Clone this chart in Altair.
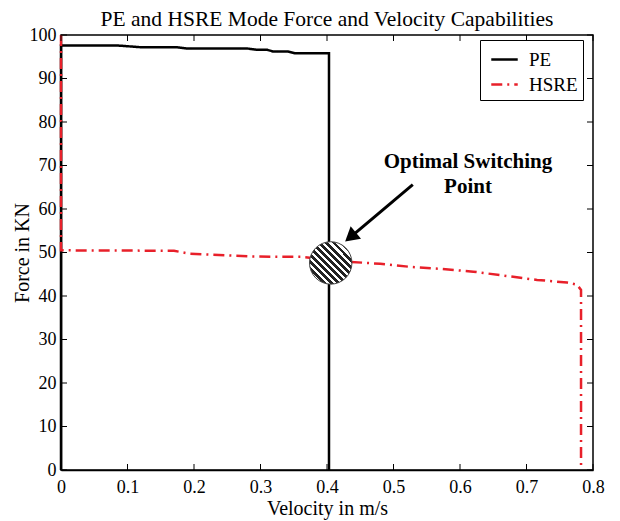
import altair as alt
import pandas as pd

# ---- data ----
pe_x = [0, 0, 0.084, 0.119, 0.174, 0.189, 0.28, 0.295, 0.31, 0.319, 0.341, 0.352, 0.403, 0.403]
pe_y = [0, 97.6, 97.6, 97.2, 97.2, 96.9, 96.9, 96.6, 96.6, 96.2, 96.2, 95.8, 95.8, 0]

hsre_x = [0, 0, 0.17, 0.194, 0.284, 0.33, 0.36, 0.43, 0.48, 0.525, 0.574, 0.62, 0.675, 0.716, 0.761, 0.776, 0.782, 0.782]
hsre_y = [100, 50.5, 50.4, 49.7, 49.1, 49.0, 49.0, 47.9, 47.4, 46.7, 46.2, 45.6, 44.5, 43.7, 43.1, 42.6, 41.4, 0]

x_ticks = [0, 0.1, 0.2, 0.3, 0.4, 0.5, 0.6, 0.7, 0.8]
y_ticks = [0, 10, 20, 30, 40, 50, 60, 70, 80, 90, 100]

switch_point = {"x": 0.4056, "y": 47.6}
arrow_start = {"x": 0.529, "y": 65.6}
arrow_end = {"x": 0.438, "y": 53.9}
note_pos = {"x": 0.612, "y": 70.9}
note_lines = ["Optimal Switching", "Point"]

FONT = "Times New Roman, Liberation Serif, serif"
RED = "#e8202a"

rows = []
for i, (a, b) in enumerate(zip(pe_x, pe_y)):
    rows.append({"series": "PE", "v": a, "f": b, "o": i})
for i, (a, b) in enumerate(zip(hsre_x, hsre_y)):
    rows.append({"series": "HSRE", "v": a, "f": b, "o": i})
lines_df = pd.DataFrame(rows)

xs = alt.Scale(domain=[0, 0.8], nice=False, zero=False)
ys = alt.Scale(domain=[0, 100], nice=False, zero=False)

axis_common = dict(tickSize=0, grid=False, labelFont=FONT, labelFontSize=18, labelColor="black",
                   titleFont=FONT, titleFontSize=20, titleFontWeight="normal", titleColor="black",
                   domainColor="black", domainWidth=1.5, titleBaseline="middle", labelFlush=False)
x_axis = alt.Axis(values=x_ticks, titleY=38, labelPadding=8,
                  labelExpr="datum.value == 0 ? '0' : format(datum.value, '.1f')", **axis_common)
y_axis = alt.Axis(values=y_ticks, titleX=-39, labelPadding=5, **axis_common)
X_TITLE = "Velocity in m/s"
Y_TITLE = "Force in KN"


def X(field):
    return alt.X(field, scale=xs, axis=x_axis, title=X_TITLE)


def Y(field):
    return alt.Y(field, scale=ys, axis=y_axis, title=Y_TITLE)


lines = alt.Chart(lines_df).mark_line(strokeWidth=2.5, clip=False).encode(
    x=X("v:Q"),
    y=Y("f:Q"),
    color=alt.Color("series:N", scale=alt.Scale(domain=["PE", "HSRE"], range=["black", RED]),
                    legend=alt.Legend(title=None)),
    strokeDash=alt.StrokeDash("series:N", scale=alt.Scale(domain=["PE", "HSRE"], range=[[1, 0], [11, 5, 2, 5]]),
                              legend=alt.Legend(title=None)),
    order="o:Q",
)

stops = []
n = 12
for i in range(n):
    stops.append(alt.GradientStop(offset=i / n, color="#222222"))
    stops.append(alt.GradientStop(offset=(i + 0.5) / n, color="#222222"))
    stops.append(alt.GradientStop(offset=(i + 0.5) / n, color="white"))
    stops.append(alt.GradientStop(offset=(i + 1) / n, color="white"))
hatch = alt.Gradient(gradient="linear", stops=stops, x1=0, y1=1, x2=1, y2=0)

circle = alt.Chart(pd.DataFrame([switch_point])).mark_point(
    shape="circle", filled=True, size=1800, fill=hatch, stroke="#444444", strokeWidth=1, opacity=1
).encode(x=X("x:Q"), y=Y("y:Q"))

arrow_df = pd.DataFrame([{"x": arrow_start["x"], "y": arrow_start["y"],
                          "x2": arrow_end["x"], "y2": arrow_end["y"]}])
arrow_line = alt.Chart(arrow_df).mark_rule(strokeWidth=3, color="black").encode(
    x=X("x:Q"), y=Y("y:Q"), x2="x2:Q", y2="y2:Q")
arrow_head = alt.Chart(pd.DataFrame([arrow_end])).mark_point(
    shape="triangle", filled=True, size=260, color="black", angle=230, opacity=1
).encode(x=X("x:Q"), y=Y("y:Q"))

note = alt.Chart(pd.DataFrame([{"x": note_pos["x"], "y": note_pos["y"], "t": note_lines}])).mark_text(
    font=FONT, fontSize=21, fontWeight="bold", align="center", baseline="middle", lineHeight=25, color="black"
).encode(x=X("x:Q"), y=Y("y:Q"), text="t")

tx = pd.DataFrame({"t": x_ticks, "lo": [0] * len(x_ticks), "hi": [100] * len(x_ticks)})
ty = pd.DataFrame({"t": y_ticks, "lo": [0] * len(y_ticks), "hi": [0.8] * len(y_ticks)})
tick_b = alt.Chart(tx).mark_rule(color="black", strokeWidth=1, y2Offset=-6).encode(
    x=X("t:Q"), y=Y("lo:Q"), y2="lo:Q")
tick_t = alt.Chart(tx).mark_rule(color="black", strokeWidth=1, y2Offset=6).encode(
    x=X("t:Q"), y=Y("hi:Q"), y2="hi:Q")
tick_l = alt.Chart(ty).mark_rule(color="black", strokeWidth=1, x2Offset=6).encode(
    y=Y("t:Q"), x=X("lo:Q"), x2="lo:Q")
tick_r = alt.Chart(ty).mark_rule(color="black", strokeWidth=1, x2Offset=-6).encode(
    y=Y("t:Q"), x=X("hi:Q"), x2="hi:Q")

chart = alt.layer(
    lines, tick_b, tick_t, tick_l, tick_r, circle, arrow_line, arrow_head, note
).properties(
    width=532, height=435,
    autosize=alt.AutoSizeParams(type="none"),
    padding={"left": 53, "top": 27, "right": 19, "bottom": 60},
    title=alt.TitleParams("PE and HSRE Mode Force and Velocity Capabilities",
                          font=FONT, fontSize=21.5, fontWeight="normal", color="black", offset=-4),
).configure_view(stroke="black", strokeWidth=1.5
).configure_legend(
    orient="none", legendX=419, legendY=5, strokeColor="black", fillColor="white",
    padding=5, cornerRadius=0, labelFont=FONT, labelFontSize=19, labelColor="black",
    symbolType="stroke", symbolSize=700, symbolStrokeWidth=2.5, rowPadding=-14, labelOffset=10,
    symbolOffset=5,
)

chart.save("out.html", embed_options={"renderer": "svg", "actions": False})
